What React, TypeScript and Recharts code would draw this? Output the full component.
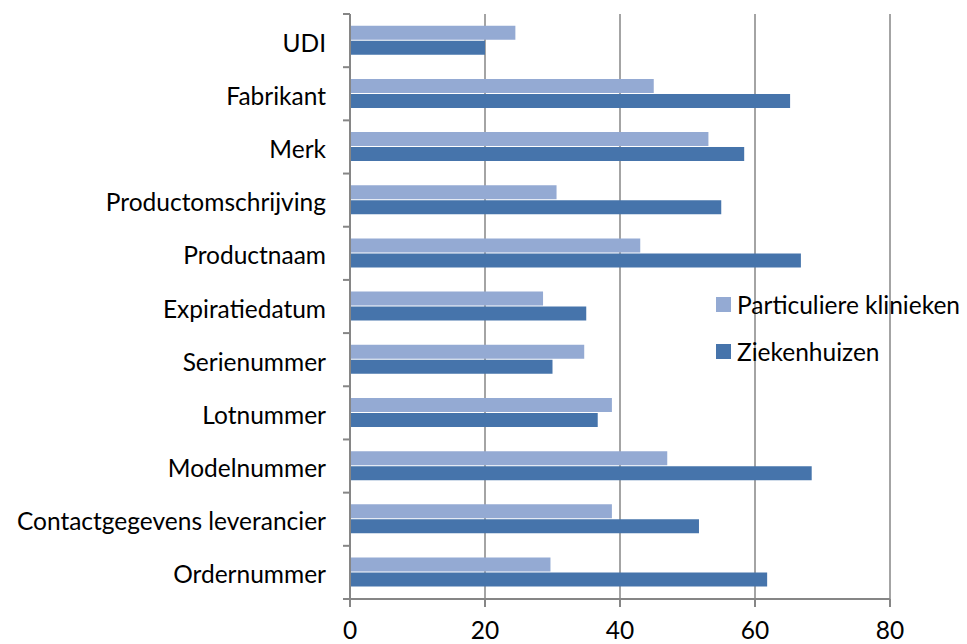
import { BarChart, Bar, XAxis, YAxis, CartesianGrid } from 'recharts';

const categories = [
  'UDI',
  'Fabrikant',
  'Merk',
  'Productomschrijving',
  'Productnaam',
  'Expiratiedatum',
  'Serienummer',
  'Lotnummer',
  'Modelnummer',
  'Contactgegevens leverancier',
  'Ordernummer',
];
const klinieken = [24.5, 45, 53.1, 30.6, 43, 28.6, 34.7, 38.8, 47, 38.8, 29.7];
const ziekenhuizen = [20, 65.2, 58.4, 55, 66.8, 35, 30, 36.7, 68.4, 51.7, 61.8];
const xTicks = [0, 20, 40, 60, 80];
const seriesNames = ['Particuliere klinieken', 'Ziekenhuizen'];

const LIGHT = '#94AAD3';
const DARK = '#4674AB';
const AXIS = '#868686';
const FONT = 'Lato, "Open Sans", sans-serif';
const FS = 24.5;

const W = 967;
const H = 644;
const MARGIN = { top: 14, right: 77, left: 0, bottom: 0 };
const X_AXIS_H = 45;
const BAND = (H - MARGIN.top - MARGIN.bottom - X_AXIS_H) / categories.length;

const data = categories.map((name, i) => ({
  name,
  klinieken: klinieken[i],
  ziekenhuizen: ziekenhuizen[i],
}));

// category label at band center, tick mark on the band boundary (Excel style)
const CategoryTick = (props: any) => {
  const { x, y, payload, index } = props;
  const axisX = x + 24;
  return (
    <g>
      <line x1={axisX - 7} x2={axisX} y1={y - BAND / 2} y2={y - BAND / 2} stroke={AXIS} strokeWidth={2} />
      {index === categories.length - 1 && (
        <line x1={axisX - 7} x2={axisX} y1={y + BAND / 2} y2={y + BAND / 2} stroke={AXIS} strokeWidth={2} />
      )}
      <text x={x} y={y} dy={11} textAnchor="end" fill="#000" fontSize={FS} fontFamily={FONT}>
        {payload.value}
      </text>
    </g>
  );
};

export default function App() {
  const colors = [LIGHT, DARK];
  return (
    <div style={{ position: 'absolute', left: 0, top: 0, width: W, height: H, background: '#fff' }}>
      <BarChart
        width={W}
        height={H}
        data={data}
        layout="vertical"
        margin={MARGIN}
        barCategoryGap="22%"
        barGap={1}
      >
        <CartesianGrid horizontal={false} stroke={AXIS} strokeWidth={1.5} />
        <XAxis
          type="number"
          domain={[0, 80]}
          ticks={xTicks}
          interval={0}
          height={X_AXIS_H}
          axisLine={{ stroke: AXIS, strokeWidth: 2 }}
          tickLine={{ stroke: AXIS, strokeWidth: 2 }}
          tickSize={8}
          tickMargin={15}
          tick={{ fill: '#000', fontSize: FS, fontFamily: FONT }}
        />
        <YAxis
          type="category"
          dataKey="name"
          width={350}
          axisLine={{ stroke: AXIS, strokeWidth: 2 }}
          tickLine={false}
          tickSize={0}
          tickMargin={24}
          interval={0}
          tick={<CategoryTick />}
        />
        <Bar dataKey="klinieken" name={seriesNames[0]} fill={LIGHT} isAnimationActive={false} />
        <Bar dataKey="ziekenhuizen" name={seriesNames[1]} fill={DARK} isAnimationActive={false} />
      </BarChart>
      <div style={{ position: 'absolute', left: 716, top: 281, fontFamily: FONT, fontSize: FS, color: '#000', whiteSpace: 'nowrap' }}>
        {seriesNames.map((label, i) => (
          <div key={label} style={{ display: 'flex', alignItems: 'center', height: 47 }}>
            <span style={{ width: 15, height: 15, background: colors[i], marginRight: 6, display: 'inline-block' }} />
            <span>{label}</span>
          </div>
        ))}
      </div>
    </div>
  );
}
